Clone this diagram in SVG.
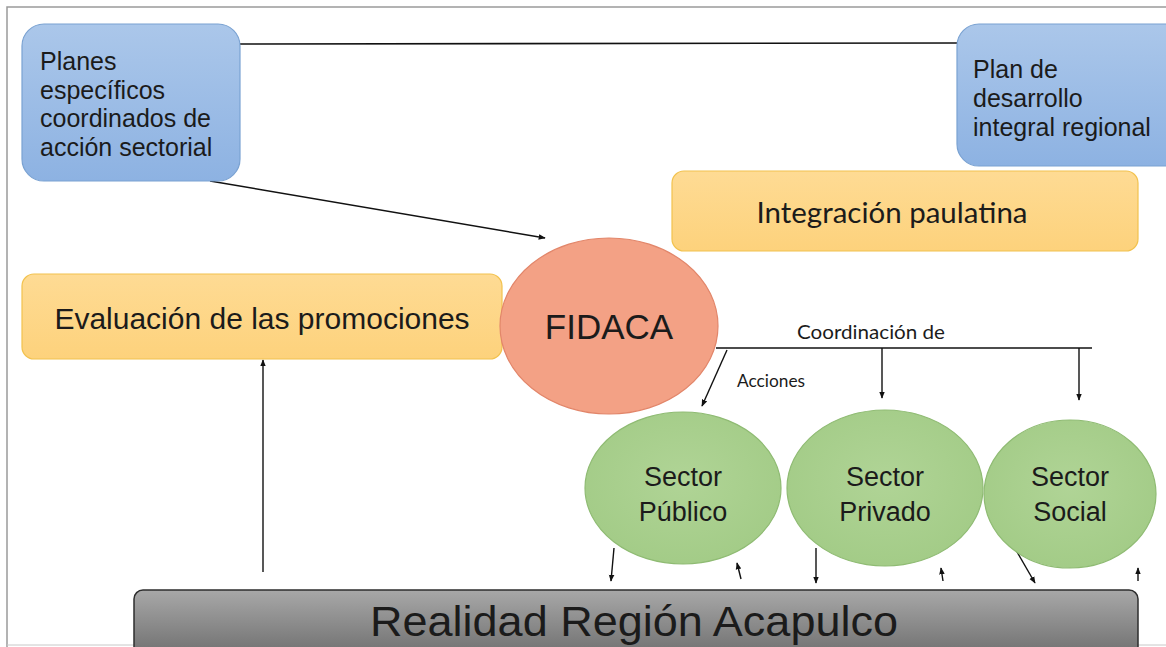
<svg xmlns="http://www.w3.org/2000/svg" width="1166" height="647" viewBox="0 0 1166 647">
<defs>
<linearGradient id="gBlue" x1="0" y1="0" x2="0" y2="1"><stop offset="0" stop-color="#abc7ea"/><stop offset="1" stop-color="#8db2e2"/></linearGradient>
<linearGradient id="gYellow" x1="0" y1="0" x2="0" y2="1"><stop offset="0" stop-color="#fedb94"/><stop offset="1" stop-color="#fdd27c"/></linearGradient>
<linearGradient id="gGray" x1="0" y1="0" x2="0" y2="1"><stop offset="0" stop-color="#a8a8a8"/><stop offset="1" stop-color="#6c6c6c"/></linearGradient>
<radialGradient id="gGreen" cx="0.5" cy="0.45" r="0.6"><stop offset="0" stop-color="#b0d496"/><stop offset="1" stop-color="#a2cb86"/></radialGradient>
<marker id="ah" viewBox="0 0 10 10" refX="9" refY="5" markerWidth="7" markerHeight="7" orient="auto" markerUnits="userSpaceOnUse"><path d="M0,1 L10,5 L0,9 z" fill="#111"/></marker>
</defs>
<style>
.blue{fill:url(#gBlue);stroke:#7aa2d2;stroke-width:1.2}
.yel{fill:url(#gYellow);stroke:#f2c24e;stroke-width:1.2}
.grn{fill:url(#gGreen);stroke:#8fbb73;stroke-width:1.2}
.ar{font-family:"Liberation Sans",Arial,sans-serif;fill:#1b1b1b}
.cal{font-family:Lato,"Open Sans",sans-serif;fill:#1b1b1b}
.ln{stroke:#111;stroke-width:1.6;fill:none}
.arr{stroke:#111;stroke-width:1.4;fill:none;marker-end:url(#ah)}
</style>
<rect width="1166" height="647" fill="#ffffff"/>
<path d="M7,647 L7,7 L1166,7" fill="none" stroke="#9a9a9a" stroke-width="1.5"/>
<path d="M7,645 L1166,645" fill="none" stroke="#c8c8c8" stroke-width="1"/>

<g id="connectors">
<path class="ln" d="M240,44 L957,43"/>
<path class="arr" d="M210,181 L545,238"/>
<path class="ln" d="M716,348 L1092,348"/>
<path class="arr" d="M727,350 L702,406"/>
<path class="arr" d="M882,348 L882,398"/>
<path class="arr" d="M1079,348 L1079,400"/>
<path class="arr" d="M263,572 L263,360"/>
<path class="arr" d="M614,548 L611,581"/>
<path class="arr" d="M741,579 L737,563"/>
<path class="arr" d="M816,548 L816,583"/>
<path class="arr" d="M943,581 L941,568"/>
<path class="arr" d="M1013,545 L1035,583"/>
<path class="arr" d="M1138,581 L1138,568"/>
<text class="cal" x="797" y="339" font-size="19" textLength="148" lengthAdjust="spacingAndGlyphs">Coordinación de</text>
<text class="cal" x="737" y="387" font-size="17" textLength="68" lengthAdjust="spacingAndGlyphs">Acciones</text>
</g>

<g id="planes">
<rect class="blue" x="22" y="24" width="218" height="157" rx="22"/>
<text class="ar" font-size="25"><tspan x="40" y="70">Planes</tspan><tspan x="40" y="99">específicos</tspan><tspan x="40" y="127">coordinados de</tspan><tspan x="40" y="156">acción sectorial</tspan></text>
</g>

<g id="plan-desarrollo">
<rect class="blue" x="957" y="24" width="230" height="142" rx="22"/>
<text class="ar" font-size="25"><tspan x="973" y="78">Plan de</tspan><tspan x="973" y="107">desarrollo</tspan><tspan x="973" y="136">integral regional</tspan></text>
</g>

<g id="integracion">
<rect class="yel" x="672" y="171" width="466" height="80" rx="12"/>
<text class="cal" x="892" y="223" font-size="29" text-anchor="middle" textLength="271" lengthAdjust="spacingAndGlyphs">Integración paulatina</text>
</g>

<g id="evaluacion">
<rect class="yel" x="22" y="274" width="480" height="85" rx="12"/>
<text class="ar" x="262" y="329" font-size="30" text-anchor="middle">Evaluación de las promociones</text>
</g>

<g id="fidaca">
<ellipse cx="609" cy="326" rx="109" ry="88" fill="#f3a185" stroke="#e2866a" stroke-width="1.2"/>
<text class="ar" x="609" y="339" font-size="35" text-anchor="middle">FIDACA</text>
</g>

<g id="sector-publico">
<ellipse class="grn" cx="683" cy="488" rx="98" ry="76"/>
<text class="ar" font-size="27" text-anchor="middle"><tspan x="683" y="486">Sector</tspan><tspan x="683" y="521">Público</tspan></text>
</g>

<g id="sector-privado">
<ellipse class="grn" cx="885" cy="488" rx="98" ry="78"/>
<text class="ar" font-size="27" text-anchor="middle"><tspan x="885" y="486">Sector</tspan><tspan x="885" y="521">Privado</tspan></text>
</g>

<g id="sector-social">
<ellipse class="grn" cx="1070" cy="494" rx="86" ry="74"/>
<text class="ar" font-size="27" text-anchor="middle"><tspan x="1070" y="486">Sector</tspan><tspan x="1070" y="521">Social</tspan></text>
</g>

<g id="realidad">
<rect x="134" y="590" width="1004" height="70" rx="9" fill="url(#gGray)" stroke="#2e2e2e" stroke-width="1.5"/>
<text class="ar" x="634" y="636" font-size="43" text-anchor="middle" textLength="528" lengthAdjust="spacingAndGlyphs">Realidad Región Acapulco</text>
</g>
</svg>
